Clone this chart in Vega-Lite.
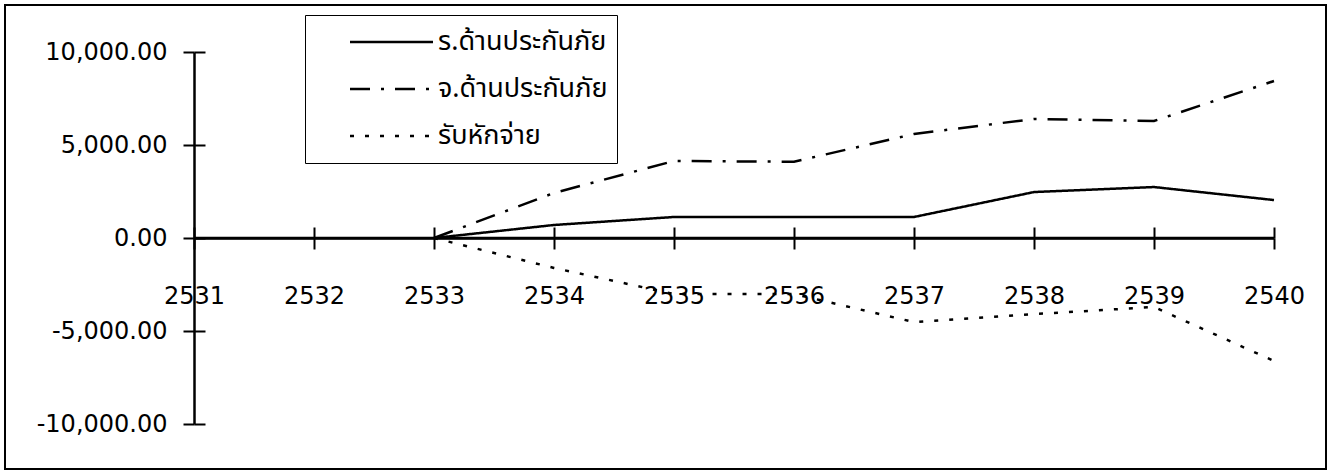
{
  "$schema": "https://vega.github.io/schema/vega-lite/v6.json",
  "width": 1321,
  "height": 464,
  "autosize": {"type": "none"},
  "padding": {"left": 5, "top": 5, "right": 5, "bottom": 2},
  "background": "white",
  "config": {
    "view": {"stroke": "black", "strokeWidth": 2},
    "axis": {
      "grid": false,
      "title": null,
      "domainColor": "black",
      "domainWidth": 2.5,
      "tickColor": "black",
      "tickWidth": 2,
      "labelColor": "black",
      "labelFont": "DejaVu Sans",
      "labelFontSize": 24,
      "labelFlush": false,
      "labelOverlap": false
    }
  },
  "datasets": {
    "series": [
      {"year": 2533, "series": "ร.ด้านประกันภัย", "value": 0},
      {"year": 2534, "series": "ร.ด้านประกันภัย", "value": 700},
      {"year": 2535, "series": "ร.ด้านประกันภัย", "value": 1130},
      {"year": 2536, "series": "ร.ด้านประกันภัย", "value": 1130},
      {"year": 2537, "series": "ร.ด้านประกันภัย", "value": 1130},
      {"year": 2538, "series": "ร.ด้านประกันภัย", "value": 2470},
      {"year": 2539, "series": "ร.ด้านประกันภัย", "value": 2740},
      {"year": 2540, "series": "ร.ด้านประกันภัย", "value": 2040},
      {"year": 2533, "series": "จ.ด้านประกันภัย", "value": 0},
      {"year": 2534, "series": "จ.ด้านประกันภัย", "value": 2420},
      {"year": 2535, "series": "จ.ด้านประกันภัย", "value": 4140},
      {"year": 2536, "series": "จ.ด้านประกันภัย", "value": 4100},
      {"year": 2537, "series": "จ.ด้านประกันภัย", "value": 5590},
      {"year": 2538, "series": "จ.ด้านประกันภัย", "value": 6400},
      {"year": 2539, "series": "จ.ด้านประกันภัย", "value": 6290},
      {"year": 2540, "series": "จ.ด้านประกันภัย", "value": 8440},
      {"year": 2533, "series": "รับหักจ่าย", "value": 0},
      {"year": 2534, "series": "รับหักจ่าย", "value": -1610},
      {"year": 2535, "series": "รับหักจ่าย", "value": -3010},
      {"year": 2536, "series": "รับหักจ่าย", "value": -3010},
      {"year": 2537, "series": "รับหักจ่าย", "value": -4520},
      {"year": 2538, "series": "รับหักจ่าย", "value": -4090},
      {"year": 2539, "series": "รับหักจ่าย", "value": -3710},
      {"year": 2540, "series": "รับหักจ่าย", "value": -6610}
    ],
    "baseline": [
      {"start": 2531, "end": 2540, "level": 0}
    ]
  },
  "layer": [
    {
      "data": {"name": "series"},
      "mark": {"type": "line", "color": "black", "strokeWidth": 2.5, "clip": false},
      "encoding": {
        "x": {
          "field": "year",
          "type": "quantitative",
          "scale": {"domain": [2531, 2540], "range": [189, 1269], "nice": false, "zero": false},
          "axis": {
            "orient": "bottom",
            "offset": -231,
            "values": [2531, 2532, 2533, 2534, 2535, 2536, 2537, 2538, 2539, 2540],
            "format": "d",
            "tickSize": 11,
            "labelPadding": 35
          }
        },
        "y": {
          "field": "value",
          "type": "quantitative",
          "scale": {"domain": [-10000, 10000], "range": [419, 47], "nice": false, "zero": false},
          "axis": {
            "orient": "left",
            "offset": -189,
            "values": [-10000, -5000, 0, 5000, 10000],
            "format": ",.2f",
            "labelExpr": "replace(datum.label, '−', '-')",
            "tickSize": 11,
            "labelPadding": 16
          }
        },
        "strokeDash": {
          "field": "series",
          "type": "nominal",
          "scale": {
            "domain": ["ร.ด้านประกันภัย", "จ.ด้านประกันภัย", "รับหักจ่าย"],
            "range": [[1, 0], [20, 11, 3, 11], [4, 11]]
          },
          "legend": {
            "title": null,
            "orient": "none",
            "legendX": 300,
            "legendY": 10,
            "symbolType": "stroke",
            "symbolSize": 6889,
            "symbolStrokeWidth": 2.5,
            "symbolStrokeColor": "black",
            "labelFont": "Noto Sans Thai, Noto Sans, sans-serif",
            "labelFontSize": 27,
            "labelColor": "black",
            "labelLimit": 400,
            "labelOffset": 3.5,
            "symbolOffset": 34.5,
            "clipHeight": 36,
            "rowPadding": 11,
            "padding": 9,
            "strokeColor": "black",
            "fillColor": "white"
          }
        }
      }
    },
    {
      "data": {"name": "baseline"},
      "mark": {"type": "rule", "color": "black", "strokeWidth": 2.5},
      "encoding": {
        "x": {
          "field": "start",
          "type": "quantitative",
          "axis": {
            "orient": "bottom",
            "offset": -231,
            "values": [2531, 2532, 2533, 2534, 2535, 2536, 2537, 2538, 2539, 2540],
            "tickSize": -11,
            "labels": false,
            "domain": false
          }
        },
        "x2": {"field": "end"},
        "y": {
          "field": "level",
          "type": "quantitative",
          "axis": {
            "orient": "left",
            "offset": -189,
            "values": [-10000, -5000, 0, 5000, 10000],
            "tickSize": -11,
            "labels": false,
            "domain": false
          }
        }
      }
    }
  ],
  "resolve": {"axis": {"x": "independent", "y": "independent"}}
}
